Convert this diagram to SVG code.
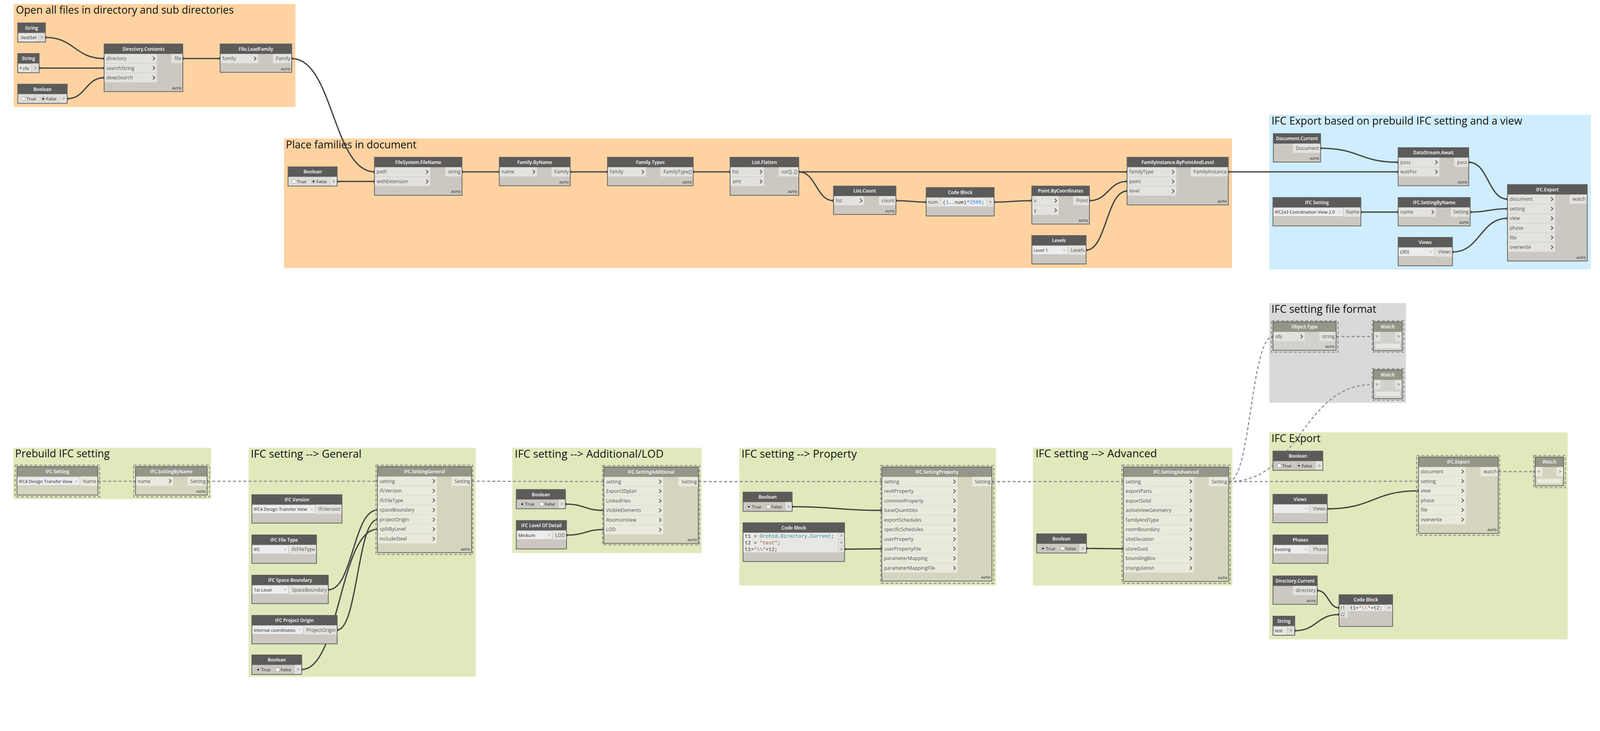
<svg xmlns="http://www.w3.org/2000/svg" width="4336" height="1872" viewBox="0 0 4336 1872">
<style>
.bg{fill:#ffffff}
.gor{fill:#fed3a1}.gbl{fill:#cfedfc}.ggr{fill:#d9d9d9}.ggn{fill:#e0e9bc}
.gt{font-family:"Open Sans","Liberation Sans",sans-serif;font-size:28px;fill:#111}
.b{fill:#ccc8c1}.bs{fill:#d5d5bf}.bsg{fill:#d3d1cc}
.o{fill:none;stroke:#5f5f5f;stroke-width:2}
.h{fill:#5c5b5a}.hs{fill:#959589}
.p{fill:#e3e2de}.ps{fill:#e9e9dd}
.vb{fill:#e7e6e2;stroke:#c4c3bf;stroke-width:1}
.ab{fill:#dcdbd7}
.ht{font-family:"Open Sans","Liberation Sans",sans-serif;font-size:12.5px;font-weight:600;fill:#fff;text-anchor:middle}
.t{font-family:"Open Sans","Liberation Sans",sans-serif;font-size:13px;fill:#555}
.v{font-family:"Open Sans","Liberation Sans",sans-serif;font-size:12px;fill:#222}
.e{text-anchor:end}
.m{text-anchor:middle}
.au{font-family:"Open Sans","Liberation Sans",sans-serif;font-size:9px;font-weight:700;fill:#555;text-anchor:end}
.ch{fill:none;stroke:#555;stroke-width:2.2}
.dd{fill:#ececec;stroke:#b3b3b3;stroke-width:1}
.da{fill:none;stroke:#666;stroke-width:1}
.sel{fill:none;stroke:#8c8c84;stroke-width:2.5;stroke-dasharray:8 5}
.rb{fill:#fff;stroke:#777;stroke-width:1}
.rd{fill:#222}
.cd{font-family:"Liberation Mono","DejaVu Sans Mono",monospace;font-size:13.4px;fill:#333}
.cb{fill:#ebebea;stroke:#c5c5c5;stroke-width:1}
.bl{fill:#2c8ae8}.tl{fill:#2a8a99}.st{fill:#a0522d}
.w{fill:none;stroke:#444;stroke-width:3.5;marker-start:url(#dot);marker-end:url(#dot)}
.wd{fill:none;stroke:#8e8e8e;stroke-width:3;stroke-dasharray:8 6;marker-start:url(#dotg);marker-end:url(#dotg)}
</style>
<defs>
<marker id="dot" markerWidth="10" markerHeight="10" refX="5" refY="5" markerUnits="userSpaceOnUse"><circle cx="5" cy="5" r="3.8" fill="#444"/></marker>
<marker id="dotg" markerWidth="10" markerHeight="10" refX="5" refY="5" markerUnits="userSpaceOnUse"><circle cx="5" cy="5" r="3.8" fill="#8e8e8e"/></marker>
</defs>
<rect class="bg" width="4336" height="1872"/>
<g id="diagram" transform="scale(0.9454)">
<g id="groups">
<g id="grp-open"><rect class="gor" x="37" y="11" width="763" height="279"/><text class="gt" x="43" y="37" textLength="590" lengthAdjust="spacingAndGlyphs">Open all files in directory and sub directories</text></g>
<g id="grp-place"><rect class="gor" x="769" y="375" width="2567" height="351"/><text class="gt" x="774" y="402" textLength="354" lengthAdjust="spacingAndGlyphs">Place families in document</text></g>
<g id="grp-export-view"><rect class="gbl" x="3437" y="311" width="871" height="419"/><text class="gt" x="3443" y="337" textLength="679" lengthAdjust="spacingAndGlyphs">IFC Export based on prebuild IFC setting and a view</text></g>
<g id="grp-format"><rect class="ggr" x="3437" y="821" width="370" height="270"/><text class="gt" x="3443" y="847" textLength="284" lengthAdjust="spacingAndGlyphs">IFC setting file format</text></g>
<g id="grp-prebuild"><rect class="ggn" x="36" y="1213" width="536" height="139"/><text class="gt" x="41" y="1239" textLength="256" lengthAdjust="spacingAndGlyphs">Prebuild IFC setting</text></g>
<g id="grp-general"><rect class="ggn" x="673" y="1213" width="615" height="620"/><text class="gt" x="679" y="1240" textLength="300" lengthAdjust="spacingAndGlyphs">IFC setting --&gt; General</text></g>
<g id="grp-additional"><rect class="ggn" x="1387" y="1213" width="513" height="285"/><text class="gt" x="1394" y="1240" textLength="403" lengthAdjust="spacingAndGlyphs">IFC setting --&gt; Additional/LOD</text></g>
<g id="grp-property"><rect class="ggn" x="2002" y="1213" width="695" height="373"/><text class="gt" x="2008" y="1240" textLength="312" lengthAdjust="spacingAndGlyphs">IFC setting --&gt; Property</text></g>
<g id="grp-advanced"><rect class="ggn" x="2797" y="1213" width="540" height="373"/><text class="gt" x="2804" y="1239" textLength="329" lengthAdjust="spacingAndGlyphs">IFC setting --&gt; Advanced</text></g>
<g id="grp-export"><rect class="ggn" x="3437" y="1171" width="808" height="561"/><text class="gt" x="3443" y="1197" textLength="133" lengthAdjust="spacingAndGlyphs">IFC Export</text></g>
</g>

<g id="connectors">
<path class="w" d="M123 101.5C202 101.5 202 158.5 282 158.5"/>
<path class="w" d="M106 184.5L282 184.5"/>
<path class="w" d="M182 267.5C232 267.5 232 210.5 282 210.5"/>
<path class="w" d="M495 158.5L596 158.5"/>
<path class="w" d="M790 158.5C902 158.5 902 465.5 1014 465.5"/>
<path class="w" d="M913 491.5L1014 491.5"/>
<path class="w" d="M1251 465.5L1352 465.5"/>
<path class="w" d="M1544 465.5L1645 465.5"/>
<path class="w" d="M1877 465.5L1977 465.5"/>
<path class="w" d="M2163 465.5L3052 465.5"/>
<path class="w" d="M2163 465.5C2210 465.5 2210 543.5 2257 543.5"/>
<path class="w" d="M2426 543.5C2467 543.5 2467 547.5 2508 547.5"/>
<path class="w" d="M2692 547.5C2743 547.5 2743 543.5 2794 543.5"/>
<path class="w" d="M2950 543.5C3001 543.5 3001 491.5 3052 491.5"/>
<path class="w" d="M2941 677.5C2996 677.5 2996 517.5 3052 517.5"/>
<path class="w" d="M3326 465.5L3786 465.5"/>
<path class="w" d="M3576 401.5C3681 401.5 3681 439.5 3786 439.5"/>
<path class="w" d="M3977 439.5C4030 439.5 4030 539.5 4082 539.5"/>
<path class="w" d="M3685 574.5L3786 574.5"/>
<path class="w" d="M3981 574.5C4031 574.5 4031 565.5 4082 565.5"/>
<path class="w" d="M3933 682.5C4008 682.5 4008 591.5 4082 591.5"/>
<path class="w" d="M889 1597.5C956 1597.5 956 1381.5 1022 1381.5"/>
<path class="w" d="M913 1706.5C968 1706.5 968 1407.5 1022 1407.5"/>
<path class="w" d="M817 1813.5C920 1813.5 920 1433.5 1022 1433.5"/>
<path class="w" d="M1531 1365.5C1583 1365.5 1583 1382.5 1635 1382.5"/>
<path class="w" d="M1534 1449.5C1585 1449.5 1585 1434.5 1635 1434.5"/>
<path class="w" d="M2145 1372.5C2267 1372.5 2267 1382.5 2388 1382.5"/>
<path class="w" d="M2287 1487.5C2338 1487.5 2338 1486.5 2388 1486.5"/>
<path class="w" d="M2942 1485.5L3042 1486.5"/>
<path class="w" d="M3594 1378.5C3718 1378.5 3718 1329.5 3841 1329.5"/>
<path class="w" d="M3567 1599.5C3597 1599.5 3597 1646.5 3626 1646.5"/>
<path class="w" d="M3506 1708.5C3566 1708.5 3566 1664.5 3626 1664.5"/>
<path class="wd" d="M265 1303.5L367 1303.5"/>
<path class="wd" d="M561 1303.5L1022 1303.5"/>
<path class="wd" d="M1277 1303.5L1635 1304.5"/>
<path class="wd" d="M1891 1304.5L2388 1304.5"/>
<path class="wd" d="M2686 1304.5L3042 1304.5"/>
<path class="wd" d="M3327 1304.5L3841 1303.5"/>
<path class="wd" d="M3327 1304.5C3387 1304.5 3387 911.5 3447 911.5"/>
<path class="wd" d="M3327 1304.5C3523 1304.5 3523 1041.5 3719 1041.5"/>
<path class="wd" d="M3618 911.5L3719 911.5"/>
<path class="wd" d="M4057 1277.5L4157 1277.5"/>
</g>

<g id="nodes">
<g id="n01-string" transform="translate(48,62)">
<rect class="b" width="75" height="52"/><rect class="h" width="75" height="27"/><text class="ht" x="37.5" y="18">String</text>
<rect class="vb" x="1" y="28" width="55" height="23"/><text class="v" x="5" y="44">.\testSet</text>
<rect class="ab" x="57" y="27" width="18" height="25"/><text class="t m" x="66" y="44">&gt;</text>
<rect class="o" width="75" height="52"/></g>

<g id="n02-string" transform="translate(48,145)">
<rect class="b" width="58" height="52"/><rect class="h" width="58" height="27"/><text class="ht" x="29" y="18">String</text>
<rect class="vb" x="1" y="28" width="36" height="23"/><text class="v" x="5" y="44">*.rfa</text>
<rect class="ab" x="38" y="27" width="20" height="25"/><text class="t m" x="48" y="44">&gt;</text>
<rect class="o" width="58" height="52"/></g>

<g id="n03-boolean" transform="translate(48,228)">
<rect class="b" width="134" height="52"/><rect class="h" width="134" height="27"/><text class="ht" x="67" y="18">Boolean</text>
<rect fill="#dedcd8" x="0" y="27" width="114" height="25"/>
<circle class="rb" cx="16" cy="39.5" r="5.5"/><text class="v" x="24" y="44">True</text>
<circle class="rb" cx="69" cy="39.5" r="5.5"/><circle class="rd" cx="69" cy="39.5" r="2.8"/><text class="v" x="77" y="44">False</text>
<rect class="p" x="115" y="27" width="19" height="25"/><text class="t m" x="124.5" y="44">&gt;</text>
<rect class="o" width="134" height="52"/></g>

<g id="n04-directory-contents" transform="translate(282,119)">
<rect class="b" width="213" height="129"/><rect class="h" width="213" height="27"/><text class="ht" x="106.5" y="18">Directory.Contents</text>
<rect class="p" y="27" width="143" height="25"/><text class="t" x="6" y="44">directory</text><path class="ch" d="M132 34.5l5 5-5 5"/>
<rect class="p" y="53" width="143" height="25"/><text class="t" x="6" y="70">searchString</text><path class="ch" d="M132 60.5l5 5-5 5"/>
<rect class="p" y="79" width="143" height="25"/><text class="t" x="6" y="96">deepSearch</text><path class="ch" d="M132 86.5l5 5-5 5"/>
<rect class="p" x="182" y="27" width="31" height="25"/><text class="t e" x="209" y="44">file</text>
<text class="au" x="209" y="123">AUTO</text>
<rect class="o" width="213" height="129"/></g>

<g id="n05-file-loadfamily" transform="translate(596,119)">
<rect class="b" width="194" height="77"/><rect class="h" width="194" height="27"/><text class="ht" x="97" y="18">File.LoadFamily</text>
<rect class="p" y="27" width="103" height="25"/><text class="t" x="6" y="44">family</text><path class="ch" d="M92 34.5l5 5-5 5"/>
<rect class="p" x="143" y="27" width="51" height="25"/><text class="t e" x="190" y="44">Family</text>
<text class="au" x="190" y="71">AUTO</text>
<rect class="o" width="194" height="77"/></g>

<g id="n06-boolean" transform="translate(780,452)">
<rect class="b" width="133" height="52"/><rect class="h" width="133" height="27"/><text class="ht" x="66.5" y="18">Boolean</text>
<rect fill="#dedcd8" x="0" y="27" width="114" height="25"/>
<circle class="rb" cx="16" cy="39.5" r="5.5"/><text class="v" x="24" y="44">True</text>
<circle class="rb" cx="69" cy="39.5" r="5.5"/><circle class="rd" cx="69" cy="39.5" r="2.8"/><text class="v" x="77" y="44">False</text>
<rect class="p" x="115" y="27" width="18" height="25"/><text class="t m" x="124" y="44">&gt;</text>
<rect class="o" width="133" height="52"/></g>

<g id="n07-filesystem-filename" transform="translate(1014,426)">
<rect class="b" width="237" height="103"/><rect class="h" width="237" height="27"/><text class="ht" x="118.5" y="18">FileSystem.FileName</text>
<rect class="p" y="27" width="151" height="25"/><text class="t" x="6" y="44">path</text><path class="ch" d="M140 34.5l5 5-5 5"/>
<rect class="p" y="53" width="151" height="25"/><text class="t" x="6" y="70">withExtension</text><path class="ch" d="M140 60.5l5 5-5 5"/>
<rect class="p" x="192" y="27" width="45" height="25"/><text class="t e" x="233" y="44">string</text>
<text class="au" x="233" y="97">AUTO</text>
<rect class="o" width="237" height="103"/></g>

<g id="n08-family-byname" transform="translate(1352,426)">
<rect class="b" width="192" height="77"/><rect class="h" width="192" height="27"/><text class="ht" x="96" y="18">Family.ByName</text>
<rect class="p" y="27" width="102" height="25"/><text class="t" x="6" y="44">name</text><path class="ch" d="M91 34.5l5 5-5 5"/>
<rect class="p" x="142" y="27" width="50" height="25"/><text class="t e" x="188" y="44">Family</text>
<text class="au" x="188" y="71">AUTO</text>
<rect class="o" width="192" height="77"/></g>

<g id="n09-family-types" transform="translate(1645,426)">
<rect class="b" width="232" height="77"/><rect class="h" width="232" height="27"/><text class="ht" x="116" y="18">Family.Types</text>
<rect class="p" y="27" width="104" height="25"/><text class="t" x="6" y="44">family</text><path class="ch" d="M93 34.5l5 5-5 5"/>
<rect class="p" x="143" y="27" width="89" height="25"/><text class="t e" x="228" y="44">FamilyType[]</text>
<text class="au" x="228" y="71">AUTO</text>
<rect class="o" width="232" height="77"/></g>

<g id="n10-list-flatten" transform="translate(1977,426)">
<rect class="b" width="186" height="103"/><rect class="h" width="186" height="27"/><text class="ht" x="93" y="18">List.Flatten</text>
<rect class="p" y="27" width="92" height="25"/><text class="t" x="6" y="44">list</text><path class="ch" d="M81 34.5l5 5-5 5"/>
<rect class="p" y="53" width="92" height="25"/><text class="t" x="6" y="70">amt</text><path class="ch" d="M81 60.5l5 5-5 5"/>
<rect class="p" x="132" y="27" width="54" height="25"/><text class="t e" x="182" y="44">var[]..[]</text>
<text class="au" x="182" y="97">AUTO</text>
<rect class="o" width="186" height="103"/></g>

<g id="n11-list-count" transform="translate(2257,504)">
<rect class="b" width="169" height="77"/><rect class="h" width="169" height="27"/><text class="ht" x="84.5" y="18">List.Count</text>
<rect class="p" y="27" width="83" height="25"/><text class="t" x="6" y="44">list</text><path class="ch" d="M72 34.5l5 5-5 5"/>
<rect class="p" x="123" y="27" width="46" height="25"/><text class="t e" x="165" y="44">count</text>
<text class="au" x="165" y="71">AUTO</text>
<rect class="o" width="169" height="77"/></g>

<g id="n12-code-block" transform="translate(2508,508)">
<rect class="b" width="184" height="77"/><rect class="h" width="184" height="27"/><text class="ht" x="92" y="18">Code Block</text>
<rect class="p" y="27" width="40" height="25"/><text class="t" x="4" y="44">num</text>
<rect class="cb" x="41" y="27.5" width="123" height="24"/>
<text class="cd" x="45" y="44">(<tspan class="bl">1</tspan>..num)*<tspan class="bl">2500</tspan>;</text>
<rect class="p" x="165" y="27" width="19" height="25"/><text class="t m" x="174.5" y="44">&gt;</text>
<rect class="o" width="184" height="77"/></g>

<g id="n13-point-bycoordinates" transform="translate(2794,504)">
<rect class="b" width="156" height="103"/><rect class="h" width="156" height="27"/><text class="ht" x="78" y="18">Point.ByCoordinates</text>
<rect class="p" y="27" width="73" height="25"/><text class="t" x="6" y="44">x</text><path class="ch" d="M62 34.5l5 5-5 5"/>
<rect class="p" y="53" width="73" height="25"/><text class="t" x="6" y="70">y</text><path class="ch" d="M62 60.5l5 5-5 5"/>
<rect class="p" x="112" y="27" width="44" height="25"/><text class="t e" x="152" y="44">Point</text>
<text class="au" x="152" y="97">AUTO</text>
<rect class="o" width="156" height="103"/></g>

<g id="n14-levels" transform="translate(2794,638)">
<rect class="b" width="147" height="77"/><rect class="h" width="147" height="27"/><text class="ht" x="73.5" y="18">Levels</text>
<rect class="dd" x="0.5" y="27.5" width="97" height="24"/><text class="v" x="5" y="44">Level 1</text><path class="da" d="M85 37.5l3 3 3-3"/>
<rect class="p" x="98" y="27" width="49" height="25"/><text class="t e" x="143" y="44">Levels</text>
<rect class="o" width="147" height="77"/></g>

<g id="n15-familyinstance" transform="translate(3052,426)">
<rect class="b" width="274" height="129"/><rect class="h" width="274" height="27"/><text class="ht" x="137" y="18">FamilyInstance.ByPointAndLevel</text>
<rect class="p" y="27" width="133" height="25"/><text class="t" x="6" y="44">familyType</text><path class="ch" d="M122 34.5l5 5-5 5"/>
<rect class="p" y="53" width="133" height="25"/><text class="t" x="6" y="70">point</text><path class="ch" d="M122 60.5l5 5-5 5"/>
<rect class="p" y="79" width="133" height="25"/><text class="t" x="6" y="96">level</text><path class="ch" d="M122 86.5l5 5-5 5"/>
<rect class="p" x="172" y="27" width="102" height="25"/><text class="t e" x="270" y="44">FamilyInstance</text>
<text class="au" x="270" y="123">AUTO</text>
<rect class="o" width="274" height="129"/></g>

<g id="n16-document-current" transform="translate(3448,362)">
<rect class="b" width="128" height="77"/><rect class="h" width="128" height="27"/><text class="ht" x="64" y="18">Document.Current</text>
<rect class="p" x="53" y="27" width="75" height="25"/><text class="t e" x="124" y="44">Document</text>
<text class="au" x="124" y="71">AUTO</text>
<rect class="o" width="128" height="77"/></g>

<g id="n17-datastream-await" transform="translate(3786,400)">
<rect class="b" width="191" height="103"/><rect class="h" width="191" height="27"/><text class="ht" x="95.5" y="18">DataStream.Await</text>
<rect class="p" y="27" width="112" height="25"/><text class="t" x="6" y="44">pass</text><path class="ch" d="M101 34.5l5 5-5 5"/>
<rect class="p" y="53" width="112" height="25"/><text class="t" x="6" y="70">waitFor</text><path class="ch" d="M101 60.5l5 5-5 5"/>
<rect class="p" x="152" y="27" width="39" height="25"/><text class="t e" x="187" y="44">pass</text>
<text class="au" x="187" y="97">AUTO</text>
<rect class="o" width="191" height="103"/></g>

<g id="n18-ifc-setting" transform="translate(3447,535)">
<rect class="b" width="238" height="77"/><rect class="h" width="238" height="27"/><text class="ht" x="119" y="18">IFC Setting</text>
<rect class="dd" x="0.5" y="27.5" width="189" height="24"/><text class="v" x="5" y="44">IFC2x3 Coordination View 2.0</text><path class="da" d="M177 37.5l3 3 3-3"/>
<rect class="p" x="190" y="27" width="48" height="25"/><text class="t e" x="234" y="44">Name</text>
<rect class="o" width="238" height="77"/></g>

<g id="n19-ifc-settingbyname" transform="translate(3786,535)">
<rect class="b" width="195" height="77"/><rect class="h" width="195" height="27"/><text class="ht" x="97.5" y="18">IFC.SettingByName</text>
<rect class="p" y="27" width="102" height="25"/><text class="t" x="6" y="44">name</text><path class="ch" d="M91 34.5l5 5-5 5"/>
<rect class="p" x="142" y="27" width="53" height="25"/><text class="t e" x="191" y="44">Setting</text>
<text class="au" x="191" y="71">AUTO</text>
<rect class="o" width="195" height="77"/></g>

<g id="n20-views" transform="translate(3786,643)">
<rect class="b" width="147" height="77"/><rect class="h" width="147" height="27"/><text class="ht" x="73.5" y="18">Views</text>
<rect class="dd" x="0.5" y="27.5" width="98" height="24"/><text class="v" x="5" y="44">{3D}</text><path class="da" d="M86 37.5l3 3 3-3"/>
<rect class="p" x="99" y="27" width="48" height="25"/><text class="t e" x="143" y="44">Views</text>
<rect class="o" width="147" height="77"/></g>

<g id="n21-ifc-export" transform="translate(4082,500)">
<rect class="b" width="216" height="207"/><rect class="h" width="216" height="27"/><text class="ht" x="108" y="18">IFC.Export</text>
<rect class="p" y="27" width="129" height="25"/><text class="t" x="6" y="44">document</text><path class="ch" d="M118 34.5l5 5-5 5"/>
<rect class="p" y="53" width="129" height="25"/><text class="t" x="6" y="70">setting</text><path class="ch" d="M118 60.5l5 5-5 5"/>
<rect class="p" y="79" width="129" height="25"/><text class="t" x="6" y="96">view</text><path class="ch" d="M118 86.5l5 5-5 5"/>
<rect class="p" y="105" width="129" height="25"/><text class="t" x="6" y="122">phase</text><path class="ch" d="M118 112.5l5 5-5 5"/>
<rect class="p" y="131" width="129" height="25"/><text class="t" x="6" y="148">file</text><path class="ch" d="M118 138.5l5 5-5 5"/>
<rect class="p" y="157" width="129" height="25"/><text class="t" x="6" y="174">overwrite</text><path class="ch" d="M118 164.5l5 5-5 5"/>
<rect class="p" x="168" y="27" width="48" height="25"/><text class="t e" x="212" y="44">watch</text>
<text class="au" x="212" y="201">AUTO</text>
<rect class="o" width="216" height="207"/></g>

<g id="n22-object-type" transform="translate(3447,872)">
<rect class="sel" x="-4" y="-3" width="180" height="85"/>
<rect class="bsg" width="171" height="77"/><rect class="hs" width="171" height="27"/><text class="ht" x="85.5" y="18">Object.Type</text>
<rect class="p" y="27" width="86" height="25"/><text class="t" x="6" y="44">obj</text><path class="ch" d="M75 34.5l5 5-5 5"/>
<rect class="p" x="126" y="27" width="45" height="25"/><text class="t e" x="167" y="44">string</text>
<text class="au" x="167" y="71">AUTO</text>
<rect class="o" width="171" height="77"/></g>

<g id="n23-watch" transform="translate(3719,872)">
<rect class="sel" x="-3" y="-3" width="85" height="85"/>
<rect class="bsg" width="78" height="78"/><rect class="hs" width="78" height="27"/><text class="ht" x="39" y="18">Watch</text>
<rect class="p" y="27" width="19" height="25"/><text class="t m" x="9.5" y="44">&gt;</text>
<rect class="p" x="59" y="27" width="19" height="25"/><text class="t m" x="68.5" y="44">&gt;</text>
<rect fill="#e8e7e4" x="6" y="59" width="66" height="12"/>
<rect class="o" width="78" height="78"/></g>

<g id="n24-watch" transform="translate(3719,1002)">
<rect class="sel" x="-3" y="-3" width="85" height="85"/>
<rect class="bsg" width="78" height="78"/><rect class="hs" width="78" height="27"/><text class="ht" x="39" y="18">Watch</text>
<rect class="p" y="27" width="19" height="25"/><text class="t m" x="9.5" y="44">&gt;</text>
<rect class="p" x="59" y="27" width="19" height="25"/><text class="t m" x="68.5" y="44">&gt;</text>
<rect fill="#e8e7e4" x="6" y="59" width="66" height="12"/>
<rect class="o" width="78" height="78"/></g>

<g id="n25-ifc-setting" transform="translate(46,1264)">
<rect class="sel" x="-5" y="-4" width="229" height="86"/>
<rect class="bs" width="219" height="77"/><rect class="hs" width="219" height="27"/><text class="ht" x="109.5" y="18">IFC Setting</text>
<rect class="dd" x="0.5" y="27.5" width="170" height="24"/><text class="v" x="5" y="44">IFC4 Design Transfer View</text><path class="da" d="M158 37.5l3 3 3-3"/>
<rect class="ps" x="171" y="27" width="48" height="25"/><text class="t e" x="215" y="44">Name</text>
<rect class="o" width="219" height="77"/></g>

<g id="n26-ifc-settingbyname" transform="translate(367,1264)">
<rect class="sel" x="-5" y="-4" width="205" height="86"/>
<rect class="bs" width="194" height="77"/><rect class="hs" width="194" height="27"/><text class="ht" x="97" y="18">IFC.SettingByName</text>
<rect class="ps" y="27" width="102" height="25"/><text class="t" x="6" y="44">name</text><path class="ch" d="M91 34.5l5 5-5 5"/>
<rect class="ps" x="141" y="27" width="53" height="25"/><text class="t e" x="190" y="44">Setting</text>
<text class="au" x="190" y="71">AUTO</text>
<rect class="o" width="194" height="77"/></g>

<g id="n27-ifc-settinggeneral" transform="translate(1022,1264)">
<rect class="sel" x="-4" y="-4" width="262" height="242"/>
<rect class="bs" width="255" height="233"/><rect class="hs" width="255" height="27"/><text class="ht" x="127.5" y="18">IFC.SettingGeneral</text>
<rect class="ps" y="27" width="161" height="25"/><text class="t" x="6" y="44">setting</text><path class="ch" d="M150 34.5l5 5-5 5"/>
<rect class="ps" y="53" width="161" height="25"/><text class="t" x="6" y="70">ifcVersion</text><path class="ch" d="M150 60.5l5 5-5 5"/>
<rect class="ps" y="79" width="161" height="25"/><text class="t" x="6" y="96">ifcFileType</text><path class="ch" d="M150 86.5l5 5-5 5"/>
<rect class="ps" y="105" width="161" height="25"/><text class="t" x="6" y="122">spaceBoundary</text><path class="ch" d="M150 112.5l5 5-5 5"/>
<rect class="ps" y="131" width="161" height="25"/><text class="t" x="6" y="148">projectOrigin</text><path class="ch" d="M150 138.5l5 5-5 5"/>
<rect class="ps" y="157" width="161" height="25"/><text class="t" x="6" y="174">splitByLevel</text><path class="ch" d="M150 164.5l5 5-5 5"/>
<rect class="ps" y="183" width="161" height="25"/><text class="t" x="6" y="200">includeSteel</text><path class="ch" d="M150 190.5l5 5-5 5"/>
<rect class="ps" x="201" y="27" width="54" height="25"/><text class="t e" x="251" y="44">Setting</text>
<text class="au" x="251" y="227">AUTO</text>
<rect class="o" width="255" height="233"/></g>

<g id="n28-ifc-version" transform="translate(682,1340)">
<rect class="b" width="244" height="77"/><rect class="h" width="244" height="27"/><text class="ht" x="122" y="18">IFC Version</text>
<rect class="dd" x="0.5" y="27.5" width="171" height="24"/><text class="v" x="5" y="44">IFC4 Design Transfer View</text><path class="da" d="M159 37.5l3 3 3-3"/>
<rect class="p" x="172" y="27" width="72" height="25"/><text class="t e" x="240" y="44">IfcVersion</text>
<rect class="o" width="244" height="77"/></g>

<g id="n29-ifc-filetype" transform="translate(682,1449)">
<rect class="b" width="175" height="77"/><rect class="h" width="175" height="27"/><text class="ht" x="87.5" y="18">IFC File Type</text>
<rect class="dd" x="0.5" y="27.5" width="99" height="24"/><text class="v" x="5" y="44">IFC</text><path class="da" d="M87 37.5l3 3 3-3"/>
<rect class="p" x="100" y="27" width="75" height="25"/><text class="t e" x="171" y="44">IfcFileType</text>
<rect class="o" width="175" height="77"/></g>

<g id="n30-ifc-spaceboundary" transform="translate(682,1558)">
<rect class="b" width="207" height="77"/><rect class="h" width="207" height="27"/><text class="ht" x="103.5" y="18">IFC Space Boundary</text>
<rect class="dd" x="0.5" y="27.5" width="99" height="24"/><text class="v" x="5" y="44">1st Level</text><path class="da" d="M87 37.5l3 3 3-3"/>
<rect class="p" x="100" y="27" width="107" height="25"/><text class="t e" x="203" y="44">SpaceBoundary</text>
<rect class="o" width="207" height="77"/></g>

<g id="n31-ifc-projectorigin" transform="translate(682,1667)">
<rect class="b" width="231" height="77"/><rect class="h" width="231" height="27"/><text class="ht" x="115.5" y="18">IFC Project Origin</text>
<rect class="dd" x="0.5" y="27.5" width="139" height="24"/><text class="v" x="5" y="44">Internal coordinates</text><path class="da" d="M127 37.5l3 3 3-3"/>
<rect class="p" x="140" y="27" width="91" height="25"/><text class="t e" x="227" y="44">ProjectOrigin</text>
<rect class="o" width="231" height="77"/></g>

<g id="n32-boolean" transform="translate(682,1774)">
<rect class="b" width="135" height="53"/><rect class="h" width="135" height="27"/><text class="ht" x="67.5" y="18">Boolean</text>
<circle class="rb" cx="17" cy="40" r="5.5"/><circle class="rd" cx="17" cy="40" r="2.8"/><text class="v" x="25" y="44.5">True</text>
<circle class="rb" cx="70" cy="40" r="5.5"/><text class="v" x="78" y="44.5">False</text>
<rect class="p" x="116" y="27" width="19" height="26"/><text class="t m" x="125.5" y="44.5">&gt;</text>
<rect class="o" width="135" height="53"/></g>

<g id="n33-ifc-settingadditional" transform="translate(1635,1265)">
<rect class="sel" x="-3" y="-4" width="262" height="215"/>
<rect class="bs" width="256" height="207"/><rect class="hs" width="256" height="27"/><text class="ht" x="128" y="18">IFC.SettingAdditional</text>
<rect class="ps" y="27" width="161" height="25"/><text class="t" x="6" y="44">setting</text><path class="ch" d="M150 34.5l5 5-5 5"/>
<rect class="ps" y="53" width="161" height="25"/><text class="t" x="6" y="70">Export2Dplan</text><path class="ch" d="M150 60.5l5 5-5 5"/>
<rect class="ps" y="79" width="161" height="25"/><text class="t" x="6" y="96">LinkedFiles</text><path class="ch" d="M150 86.5l5 5-5 5"/>
<rect class="ps" y="105" width="161" height="25"/><text class="t" x="6" y="122">VisibleElements</text><path class="ch" d="M150 112.5l5 5-5 5"/>
<rect class="ps" y="131" width="161" height="25"/><text class="t" x="6" y="148">RoomsInView</text><path class="ch" d="M150 138.5l5 5-5 5"/>
<rect class="ps" y="157" width="161" height="25"/><text class="t" x="6" y="174">LOD</text><path class="ch" d="M150 164.5l5 5-5 5"/>
<rect class="ps" x="202" y="27" width="54" height="25"/><text class="t e" x="252" y="44">Setting</text>
<text class="au" x="252" y="201">AUTO</text>
<rect class="o" width="256" height="207"/></g>

<g id="n34-boolean" transform="translate(1398,1326)">
<rect class="b" width="133" height="52"/><rect class="h" width="133" height="27"/><text class="ht" x="66.5" y="18">Boolean</text>
<circle class="rb" cx="16" cy="39.5" r="5.5"/><circle class="rd" cx="16" cy="39.5" r="2.8"/><text class="v" x="24" y="44">True</text>
<circle class="rb" cx="69" cy="39.5" r="5.5"/><text class="v" x="77" y="44">False</text>
<rect class="p" x="115" y="27" width="18" height="25"/><text class="t m" x="124" y="44">&gt;</text>
<rect class="o" width="133" height="52"/></g>

<g id="n35-ifc-lod" transform="translate(1398,1410)">
<rect class="b" width="136" height="77"/><rect class="h" width="136" height="27"/><text class="ht" x="68" y="18">IFC Level Of Detail</text>
<rect class="dd" x="0.5" y="27.5" width="97" height="24"/><text class="v" x="5" y="44">Medium</text><path class="da" d="M85 37.5l3 3 3-3"/>
<rect class="p" x="98" y="27" width="38" height="25"/><text class="t e" x="132" y="44">LOD</text>
<rect class="o" width="136" height="77"/></g>

<g id="n36-ifc-settingproperty" transform="translate(2388,1265)">
<rect class="sel" x="-3" y="-4" width="306" height="319"/>
<rect class="bs" width="298" height="309"/><rect class="hs" width="298" height="27"/><text class="ht" x="149" y="18">IFC.SettingProperty</text>
<rect class="ps" y="27" width="205" height="25"/><text class="t" x="6" y="44">setting</text><path class="ch" d="M194 34.5l5 5-5 5"/>
<rect class="ps" y="53" width="205" height="25"/><text class="t" x="6" y="70">revitProperty</text><path class="ch" d="M194 60.5l5 5-5 5"/>
<rect class="ps" y="79" width="205" height="25"/><text class="t" x="6" y="96">commonProperty</text><path class="ch" d="M194 86.5l5 5-5 5"/>
<rect class="ps" y="105" width="205" height="25"/><text class="t" x="6" y="122">baseQuantities</text><path class="ch" d="M194 112.5l5 5-5 5"/>
<rect class="ps" y="131" width="205" height="25"/><text class="t" x="6" y="148">exportSchedules</text><path class="ch" d="M194 138.5l5 5-5 5"/>
<rect class="ps" y="157" width="205" height="25"/><text class="t" x="6" y="174">specificSchedules</text><path class="ch" d="M194 164.5l5 5-5 5"/>
<rect class="ps" y="183" width="205" height="25"/><text class="t" x="6" y="200">userProperty</text><path class="ch" d="M194 190.5l5 5-5 5"/>
<rect class="ps" y="209" width="205" height="25"/><text class="t" x="6" y="226">userPropertyFile</text><path class="ch" d="M194 216.5l5 5-5 5"/>
<rect class="ps" y="235" width="205" height="25"/><text class="t" x="6" y="252">parameterMapping</text><path class="ch" d="M194 242.5l5 5-5 5"/>
<rect class="ps" y="261" width="205" height="25"/><text class="t" x="6" y="278">parameterMappingFile</text><path class="ch" d="M194 268.5l5 5-5 5"/>
<rect class="ps" x="245" y="27" width="53" height="25"/><text class="t e" x="294" y="44">Setting</text>
<text class="au" x="294" y="303">AUTO</text>
<rect class="o" width="298" height="309"/></g>

<g id="n37-boolean" transform="translate(2012,1333)">
<rect class="b" width="133" height="52"/><rect class="h" width="133" height="27"/><text class="ht" x="66.5" y="18">Boolean</text>
<circle class="rb" cx="16" cy="39.5" r="5.5"/><circle class="rd" cx="16" cy="39.5" r="2.8"/><text class="v" x="24" y="44">True</text>
<circle class="rb" cx="69" cy="39.5" r="5.5"/><text class="v" x="77" y="44">False</text>
<rect class="p" x="115" y="27" width="18" height="25"/><text class="t m" x="124" y="44">&gt;</text>
<rect class="o" width="133" height="52"/></g>

<g id="n38-code-block" transform="translate(2012,1416)">
<rect class="b" width="275" height="105"/><rect class="h" width="275" height="27"/><text class="ht" x="137.5" y="18">Code Block</text>
<rect fill="#e8e7e4" x="0" y="27" width="257" height="53"/>
<text class="cd" x="5" y="41">t1 = <tspan class="tl">Orchid</tspan>.<tspan class="tl">Directory</tspan>.<tspan class="tl">Current</tspan>;</text>
<text class="cd" x="5" y="58">t2 = <tspan class="st">"test"</tspan>;</text>
<text class="cd" x="5" y="76">t1+<tspan class="st">"\\"</tspan>+t2;</text>
<rect class="p" x="258" y="27" width="17" height="17"/><text class="t m" x="266.5" y="40">&gt;</text>
<rect class="p" x="258" y="45" width="17" height="17"/><text class="t m" x="266.5" y="58">&gt;</text>
<rect class="p" x="258" y="63" width="17" height="17"/><text class="t m" x="266.5" y="76">&gt;</text>
<rect class="o" width="275" height="105"/></g>

<g id="n39-ifc-settingadvanced" transform="translate(3042,1265)">
<rect class="sel" x="-4" y="-5" width="293" height="320"/>
<rect class="bs" width="285" height="310"/><rect class="hs" width="285" height="27"/><text class="ht" x="142.5" y="18">IFC.SettingAdvanced</text>
<rect class="ps" y="27" width="191" height="25"/><text class="t" x="6" y="44">setting</text><path class="ch" d="M180 34.5l5 5-5 5"/>
<rect class="ps" y="53" width="191" height="25"/><text class="t" x="6" y="70">exportParts</text><path class="ch" d="M180 60.5l5 5-5 5"/>
<rect class="ps" y="79" width="191" height="25"/><text class="t" x="6" y="96">exportSolid</text><path class="ch" d="M180 86.5l5 5-5 5"/>
<rect class="ps" y="105" width="191" height="25"/><text class="t" x="6" y="122">activeViewGeometry</text><path class="ch" d="M180 112.5l5 5-5 5"/>
<rect class="ps" y="131" width="191" height="25"/><text class="t" x="6" y="148">familyAndType</text><path class="ch" d="M180 138.5l5 5-5 5"/>
<rect class="ps" y="157" width="191" height="25"/><text class="t" x="6" y="174">roomBoundary</text><path class="ch" d="M180 164.5l5 5-5 5"/>
<rect class="ps" y="183" width="191" height="25"/><text class="t" x="6" y="200">siteElevation</text><path class="ch" d="M180 190.5l5 5-5 5"/>
<rect class="ps" y="209" width="191" height="25"/><text class="t" x="6" y="226">storeGuid</text><path class="ch" d="M180 216.5l5 5-5 5"/>
<rect class="ps" y="235" width="191" height="25"/><text class="t" x="6" y="252">boundingBox</text><path class="ch" d="M180 242.5l5 5-5 5"/>
<rect class="ps" y="261" width="191" height="25"/><text class="t" x="6" y="278">triangulation</text><path class="ch" d="M180 268.5l5 5-5 5"/>
<rect class="ps" x="231" y="27" width="54" height="25"/><text class="t e" x="281" y="44">Setting</text>
<text class="au" x="281" y="304">AUTO</text>
<rect class="o" width="285" height="310"/></g>

<g id="n40-boolean" transform="translate(2807,1446)">
<rect class="b" width="135" height="52"/><rect class="h" width="135" height="27"/><text class="ht" x="67.5" y="18">Boolean</text>
<circle class="rb" cx="17" cy="39.5" r="5.5"/><circle class="rd" cx="17" cy="39.5" r="2.8"/><text class="v" x="25" y="44">True</text>
<circle class="rb" cx="70" cy="39.5" r="5.5"/><text class="v" x="78" y="44">False</text>
<rect class="p" x="116" y="27" width="19" height="25"/><text class="t m" x="125.5" y="44">&gt;</text>
<rect class="o" width="135" height="52"/></g>

<g id="n41-boolean" transform="translate(3447,1222)">
<rect class="b" width="135" height="52"/><rect class="h" width="135" height="27"/><text class="ht" x="67.5" y="18">Boolean</text>
<circle class="rb" cx="17" cy="39.5" r="5.5"/><text class="v" x="25" y="44">True</text>
<circle class="rb" cx="70" cy="39.5" r="5.5"/><circle class="rd" cx="70" cy="39.5" r="2.8"/><text class="v" x="78" y="44">False</text>
<rect class="p" x="116" y="27" width="19" height="25"/><text class="t m" x="125.5" y="44">&gt;</text>
<rect class="o" width="135" height="52"/></g>

<g id="n42-views" transform="translate(3447,1339)">
<rect class="b" width="147" height="77"/><rect class="h" width="147" height="27"/><text class="ht" x="73.5" y="18">Views</text>
<rect class="dd" x="0.5" y="27.5" width="98" height="24"/><path class="da" d="M86 37.5l3 3 3-3"/>
<rect class="p" x="99" y="27" width="48" height="25"/><text class="t e" x="143" y="44">Views</text>
<rect class="o" width="147" height="77"/></g>

<g id="n43-phases" transform="translate(3447,1449)">
<rect class="b" width="149" height="77"/><rect class="h" width="149" height="27"/><text class="ht" x="74.5" y="18">Phases</text>
<rect class="dd" x="0.5" y="27.5" width="98" height="24"/><text class="v" x="5" y="44">Existing</text><path class="da" d="M86 37.5l3 3 3-3"/>
<rect class="p" x="99" y="27" width="50" height="25"/><text class="t e" x="145" y="44">Phase</text>
<rect class="o" width="149" height="77"/></g>

<g id="n44-directory-current" transform="translate(3447,1560)">
<rect class="b" width="120" height="77"/><rect class="h" width="120" height="27"/><text class="ht" x="60" y="18">Directory.Current</text>
<rect class="p" x="54" y="27" width="66" height="25"/><text class="t e" x="116" y="44">directory</text>
<text class="au" x="116" y="71">AUTO</text>
<rect class="o" width="120" height="77"/></g>

<g id="n45-code-block" transform="translate(3626,1611)">
<rect class="b" width="145" height="86"/><rect class="h" width="145" height="27"/><text class="ht" x="72.5" y="18">Code Block</text>
<rect class="p" x="0" y="27" width="24" height="17"/><text class="t" x="4" y="40.5">t1</text>
<rect class="p" x="0" y="45" width="24" height="17"/><text class="t" x="4" y="58.5">t2</text>
<rect class="cb" x="25" y="27.5" width="100" height="17"/>
<text class="cd" x="29" y="40.5">t1+<tspan class="st">"\\"</tspan>+t2;</text>
<rect class="p" x="126" y="27" width="19" height="18"/><text class="t m" x="135.5" y="40.5">&gt;</text>
<rect class="o" width="145" height="86"/></g>

<g id="n46-string" transform="translate(3447,1669)">
<rect class="b" width="59" height="52"/><rect class="h" width="59" height="27"/><text class="ht" x="29.5" y="18">String</text>
<rect class="vb" x="1" y="28" width="37" height="23"/><text class="v" x="5" y="44">test</text>
<rect class="ab" x="39" y="27" width="20" height="25"/><text class="t m" x="49" y="44">&gt;</text>
<rect class="o" width="59" height="52"/></g>

<g id="n47-ifc-export" transform="translate(3841,1238)">
<rect class="sel" x="-5" y="-4" width="225" height="216"/>
<rect class="bs" width="216" height="207"/><rect class="hs" width="216" height="27"/><text class="ht" x="108" y="18">IFC.Export</text>
<rect class="ps" y="27" width="128" height="25"/><text class="t" x="6" y="44">document</text><path class="ch" d="M117 34.5l5 5-5 5"/>
<rect class="ps" y="53" width="128" height="25"/><text class="t" x="6" y="70">setting</text><path class="ch" d="M117 60.5l5 5-5 5"/>
<rect class="ps" y="79" width="128" height="25"/><text class="t" x="6" y="96">view</text><path class="ch" d="M117 86.5l5 5-5 5"/>
<rect class="ps" y="105" width="128" height="25"/><text class="t" x="6" y="122">phase</text><path class="ch" d="M117 112.5l5 5-5 5"/>
<rect class="ps" y="131" width="128" height="25"/><text class="t" x="6" y="148">file</text><path class="ch" d="M117 138.5l5 5-5 5"/>
<rect class="ps" y="157" width="128" height="25"/><text class="t" x="6" y="174">overwrite</text><path class="ch" d="M117 164.5l5 5-5 5"/>
<rect class="ps" x="168" y="27" width="48" height="25"/><text class="t e" x="212" y="44">watch</text>
<text class="au" x="212" y="201">AUTO</text>
<rect class="o" width="216" height="207"/></g>

<g id="n48-watch" transform="translate(4157,1238)">
<rect class="sel" x="-4" y="-4" width="86" height="87"/>
<rect class="bs" width="77" height="78"/><rect class="hs" width="77" height="27"/><text class="ht" x="38.5" y="18">Watch</text>
<rect class="ps" y="27" width="19" height="25"/><text class="t m" x="9.5" y="44">&gt;</text>
<rect class="ps" x="58" y="27" width="19" height="25"/><text class="t m" x="67.5" y="44">&gt;</text>
<rect fill="#ebebe0" x="6" y="59" width="65" height="12"/>
<rect class="o" width="77" height="78"/></g>
</g>
</g>
</svg>
